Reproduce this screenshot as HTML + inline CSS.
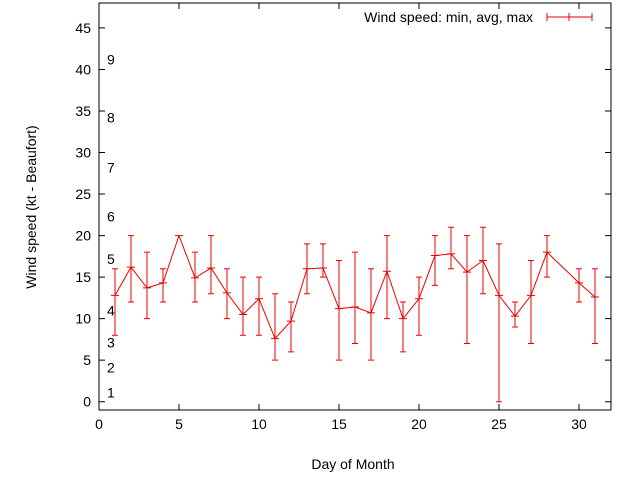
<!DOCTYPE html>
<html><head><meta charset="utf-8"><style>
body{margin:0;background:#fff}
svg{display:block;font-family:"Liberation Sans",sans-serif}
</style></head><body>
<svg id="chart" width="640" height="480" xmlns="http://www.w3.org/2000/svg">
<g id="axes"></g><g id="marks"></g>
<text x="353" y="469" font-size="14" text-anchor="middle">Day of Month</text>
<text x="36" y="207" font-size="14" text-anchor="middle" transform="rotate(-90 36 207)">Wind speed (kt - Beaufort)</text>
<g>
<text x="533" y="22" font-size="14" text-anchor="end">Wind speed: min, avg, max</text>
<path d="M547 17H592M547 13V21M592 13V21M569 13V21" stroke="#e00" stroke-width="1" fill="none"/>
</g>
</svg>
<script>
const days=[1,2,3,4,5,6,7,8,9,10,11,12,13,14,15,16,17,18,19,20,21,22,23,24,25,26,27,28,30,31];
const avgs=[12.8,16.2,13.7,14.3,20,14.9,16.1,13.1,10.5,12.4,7.6,9.7,16,16.1,11.2,11.4,10.7,15.7,10,12.4,17.6,17.8,15.6,17,12.8,10.3,12.8,18,14.3,12.6];
const mins=[8,12,10,12,20,12,13,10,8,8,5,6,13,15,5,7,5,10,6,8,14,16,7,13,0,9,7,15,12,7];
const maxs=[16,20,18,16,20,18,20,16,15,15,13,12,19,19,17,18,16,20,12,15,20,21,20,21,19,12,17,20,16,16];
const xTicks=[0,5,10,15,20,25,30];
const yTicks=[0,5,10,15,20,25,30,35,40,45];
const bftLabels=["1","2","3","4","5","6","7","8","9"];
const bftValues=[1.1,4.1,7.1,11.0,17.2,22.3,28.2,34.2,41.2];
const X0=99,X1=611,Y0=410,Y1=3,xmin=0,xmax=32,ymin=-1,ymax=48;
const sx=v=>X0+(v-xmin)/(xmax-xmin)*(X1-X0);
const sy=v=>Y0-(v-ymin)/(ymax-ymin)*(Y0-Y1);
const NS="http://www.w3.org/2000/svg";
const axes=document.getElementById('axes'),marks=document.getElementById('marks');
function mk(tag,attrs,parent){const e=document.createElementNS(NS,tag);for(const k in attrs)e.setAttribute(k,attrs[k]);parent.appendChild(e);return e;}
const frame=mk('rect',{x:X0,y:Y1,width:X1-X0,height:Y0-Y1,fill:'none',stroke:'#000'},axes);


xTicks.forEach(t=>{const x=sx(t);
const l=mk('path',{d:`M${x} ${Y0}v-6M${x} ${Y1}v6`,stroke:'#000'},axes);


const tx=mk('text',{x:x,y:Y0+19,'font-size':14,'text-anchor':'middle'},axes);tx.textContent=t;

});
yTicks.forEach(t=>{const y=sy(t);
const l=mk('path',{d:`M${X0} ${y}h6M${X1} ${y}h-6`,stroke:'#000'},axes);


const tx=mk('text',{x:X0-8,y:y+5,'font-size':14,'text-anchor':'end'},axes);tx.textContent=t;

});
bftLabels.forEach((b,i)=>{const tx=mk('text',{x:107,y:sy(bftValues[i])+5,'font-size':14},axes);tx.textContent=b;

});
const line=mk('polyline',{points:days.map((d,i)=>sx(d)+','+sy(avgs[i])).join(' '),fill:'none',stroke:'#e00','stroke-width':1},marks);


days.forEach((d,i)=>{const x=sx(d),a=sy(avgs[i]),lo=sy(mins[i]),hi=sy(maxs[i]);
const p=mk('path',{d:`M${x} ${lo}V${hi}M${x-3} ${lo}h6M${x-3} ${hi}h6M${x-4} ${a}h8`,stroke:'#e00','stroke-width':1,fill:'none'},marks);

});
</script>
</body></html>
